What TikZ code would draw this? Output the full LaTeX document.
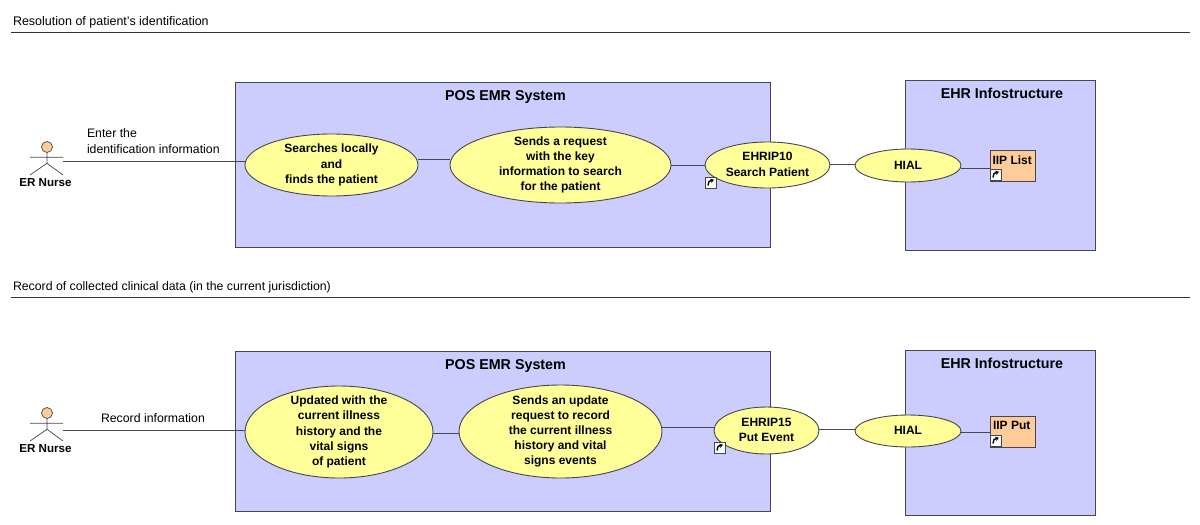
\documentclass[tikz,border=0pt]{standalone}
\usepackage{fontspec}
\setmainfont{Liberation Sans}
\definecolor{sysblue}{RGB}{204,204,255}
\definecolor{ucyellow}{RGB}{255,255,153}
\definecolor{peach}{RGB}{255,204,153}
\definecolor{lineg}{RGB}{70,70,80}
\newcommand{\fs}{\fontsize{12}{15.2}\selectfont}
\newcommand{\fl}{\fontsize{12.3}{15.5}\selectfont}
\newcommand{\ft}{\fontsize{14.3}{17}\selectfont}
\newcommand{\up}[1]{\raisebox{1.5pt}{#1}}
\tikzset{
  x=1pt,y=-1pt,
  every node/.style={inner sep=0pt,outer sep=0pt,font=\fs},
  sysbox/.style={draw=lineg,fill=sysblue,line width=.8pt,anchor=north west},
  uc/.style={draw=lineg,fill=ucyellow,line width=.9pt,ellipse,align=center,font=\fs\bfseries,inner sep=-25pt},
  part/.style={draw=lineg,fill=peach,line width=.9pt,anchor=north west,minimum width=45.5pt,minimum height=31pt},
  link/.style={draw=lineg,line width=.9pt},
  rulel/.style={draw=black!80,line width=.7pt},
  txt/.style={align=left,anchor=west,font=\fl},
  boxtitle/.style={font=\ft\bfseries,anchor=base},
  actorlabel/.style={font=\fontsize{11.6}{14}\selectfont\bfseries},
  shortcut/.style={draw=lineg,fill=white,line width=.7pt,minimum width=11pt,minimum height=11pt,anchor=north west},
  actorline/.style={draw=lineg,line width=.7pt},
}
\usetikzlibrary{shapes.geometric,arrows.meta}
\newcommand{\shortarrow}[1]{%
  \draw[black,line width=1.4pt,-{Stealth[length=3.5pt,width=4.5pt]}] ([shift={(-2.5,3)}]#1.center) -- ([shift={(-1.5,-1)}]#1.center) -- ([shift={(3.4,-2.8)}]#1.center);
}
\newcommand{\actor}[2]{% name, head centre y
  \node[circle,draw=lineg,fill=peach,line width=.7pt,minimum size=11pt] (#1) at (47,#2) {};
  \coordinate (#1n) at (47,#2+5.5);
  \coordinate (#1w) at (47,#2+16.3);
  \coordinate (#1a) at (30,#2+10.3);
  \coordinate (#1b) at (63,#2+10.3);
  \coordinate (#1c) at (30,#2+28);
  \coordinate (#1d) at (63,#2+28);
  \draw[actorline] (#1n) -- (#1w) (#1a) -- (#1b) (#1c) -- (#1w) -- (#1d);
}
\begin{document}
\begin{tikzpicture}
\useasboundingbox (0,0) rectangle (1200,525);
% ---- top row
\node[txt,font=\fontsize{12.5}{15.5}\selectfont] (t1) at (13,22.5) {Resolution of patient's identification};
\coordinate (r1a) at (11,32.5); \coordinate (r1b) at (1190,32.5);
\draw[rulel] (r1a) -- (r1b);
\node[sysbox,minimum width=535pt,minimum height=165pt] (sysA) at (235,82) {};
\node[sysbox,minimum width=190pt,minimum height=170pt] (ehrA) at (905,80) {};
\node[boxtitle] (sysAt) at (505.5,100) {POS EMR System};
\node[boxtitle] (ehrAt) at (1002,98) {EHR Infostructure};
\actor{na}{147}
\node[actorlabel] (naL) at (45.5,183) {ER Nurse};
\node[txt] (naT) at (87,141) {Enter the\\identification information};
\node[uc,minimum width=173pt,minimum height=62pt] (a1) at (331.5,165) {\up{Searches locally}\\\up{and}\\\up{finds the patient}};
\node[uc,minimum width=221pt,minimum height=76pt] (a2) at (560.5,165) {\up{Sends a request}\\\up{with the key}\\\up{information to search}\\\up{for the patient}};
\node[uc,minimum width=125pt,minimum height=46pt] (a3) at (767.5,165) {\up{EHRIP10}\\\up{Search Patient}};
\node[uc,minimum width=106pt,minimum height=33pt] (a4) at (908,165.5) {HIAL};
\node[part] (a5) at (990,150) {};
\node[anchor=north west,font=\fs\bfseries] (a5t) at (992.5,155.5) {IIP List};
\node[shortcut] (ia3) at (705,177) {};
\node[shortcut] (ia5) at (990,169) {};
\shortarrow{ia3}\shortarrow{ia5}
\draw[link] (63,161) -- (a1.west |- 0,161);
\draw[link] (a1.east |- 0,159.5) -- (a2.west |- 0,159.5);
\draw[link] (a2.east |- 0,165) -- (a3.west |- 0,165);
\draw[link] (a3.east |- 0,164) -- (a4.west |- 0,164);
\draw[link] (a4.east |- 0,168) -- (a5.west |- 0,168);
% ---- bottom row
\node[txt] (t2) at (13,287) {Record of collected clinical data (in the current jurisdiction)};
\coordinate (r2a) at (11,297.5); \coordinate (r2b) at (1190,297.5);
\draw[rulel] (r2a) -- (r2b);
\node[sysbox,minimum width=535pt,minimum height=160pt] (sysB) at (235,351) {};
\node[sysbox,minimum width=190pt,minimum height=165pt] (ehrB) at (905,350) {};
\node[boxtitle] (sysBt) at (505.5,369) {POS EMR System};
\node[boxtitle] (ehrBt) at (1002,368) {EHR Infostructure};
\actor{nb}{413}
\node[actorlabel] (nbL) at (45.5,449) {ER Nurse};
\node[txt] (nbT) at (101,418) {Record information};
\node[uc,minimum width=188pt,minimum height=92pt] (b1) at (339,432) {\up{Updated with the}\\\up{current illness}\\\up{history and the}\\\up{vital signs}\\\up{of patient}};
\node[uc,minimum width=203pt,minimum height=93pt] (b2) at (560.5,431.5) {Sends an update\\request to record\\the current illness\\history and vital\\signs events};
\node[uc,minimum width=105pt,minimum height=47pt] (b3) at (766.5,430.5) {\up{EHRIP15}\\\up{Put Event}};
\node[uc,minimum width=106pt,minimum height=32pt] (b4) at (908,431) {\up{HIAL}};
\node[part] (b5) at (990,416) {};
\node[anchor=north west,font=\fs\bfseries] (b5t) at (993,421.5) {IIP Put};
\node[shortcut] (ib3) at (714,442) {};
\node[shortcut] (ib5) at (990,435) {};
\shortarrow{ib3}\shortarrow{ib5}
\draw[link] (63,430) -- (b1.west |- 0,430);
\draw[link] (b1.east |- 0,433) -- (b2.west |- 0,433);
\draw[link] (b2.east |- 0,427) -- (b3.west |- 0,427);
\draw[link] (b3.east |- 0,429) -- (b4.west |- 0,429);
\draw[link] (b4.east |- 0,432) -- (b5.west |- 0,432);
\end{tikzpicture}
\end{document}
